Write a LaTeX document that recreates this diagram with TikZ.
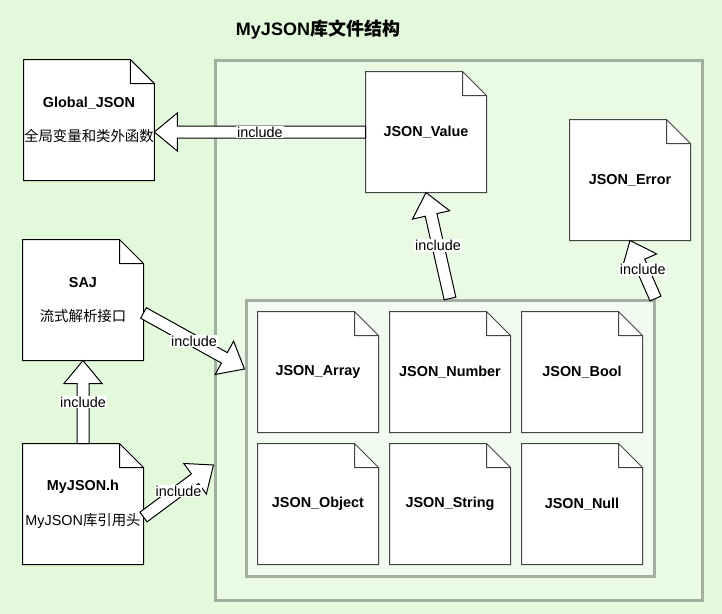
\documentclass[tikz,border=0pt]{standalone}
\usepackage{fontspec}
\setmainfont{Liberation Sans}
\newfontfamily\cjk{Noto Sans CJK SC}
\usetikzlibrary{calc}
\definecolor{pagebg}{HTML}{E2FADB}
\definecolor{outerfill}{HTML}{EAFBE5}
\definecolor{innerfill}{HTML}{F2FBF0}
\definecolor{boxline}{HTML}{A3AFA0}
\definecolor{docline}{HTML}{444444}

\newdimen\docXa \newdimen\docYa \newdimen\docXb \newdimen\docYb \newdimen\docXc \newdimen\docYc
\makeatletter
\pgfdeclareshape{notedoc}{
  \inheritsavedanchors[from=rectangle]
  \inheritanchorborder[from=rectangle]
  \inheritanchor[from=rectangle]{center}
  \inheritanchor[from=rectangle]{north}
  \inheritanchor[from=rectangle]{south}
  \inheritanchor[from=rectangle]{east}
  \inheritanchor[from=rectangle]{west}
  \inheritanchor[from=rectangle]{north east}
  \inheritanchor[from=rectangle]{north west}
  \inheritanchor[from=rectangle]{south east}
  \inheritanchor[from=rectangle]{south west}
  \backgroundpath{%
    \southwest \docXa=\pgf@x \docYa=\pgf@y
    \northeast \docXb=\pgf@x \docYb=\pgf@y
    \docXc=\docXb \advance\docXc by -18pt
    \docYc=\docYb \advance\docYc by -18pt
    \pgfpathmoveto{\pgfqpoint{\docXa}{\docYa}}%
    \pgfpathlineto{\pgfqpoint{\docXa}{\docYb}}%
    \pgfpathlineto{\pgfqpoint{\docXc}{\docYb}}%
    \pgfpathlineto{\pgfqpoint{\docXb}{\docYc}}%
    \pgfpathlineto{\pgfqpoint{\docXb}{\docYa}}%
    \pgfpathclose
    \pgfpathmoveto{\pgfqpoint{\docXb}{\docYc}}%
    \pgfpathlineto{\pgfqpoint{\docXc}{\docYc}}%
    \pgfpathlineto{\pgfqpoint{\docXc}{\docYb}}%
  }
}
\makeatother

\tikzset{
  doc/.style={shape=notedoc, draw=#1, fill=white, line width=0.75pt, inner sep=0pt,
    minimum width=90pt, minimum height=90pt, align=center,
    font=\fontsize{10.8}{12.96}\selectfont\bfseries},
  doc/.default=black,
  container/.style={draw=boxline, line width=2.25pt, fill=#1, inner sep=0pt},
  flexline/.style={draw=black, fill=white, line width=0.75pt, line join=miter},
  lbl/.style={fill=white, inner sep=0.8pt, font=\fontsize{10.8}{12.96}\selectfont},
}

\newcommand\flexarrow[3]{%
  \draw[flexline] let \p1=(#1), \p2=(#2) in
    ($(\p1)!4.5pt!90:(\p2)$)
    -- ($(\p2)!17.25pt!(\p1)!4.5pt!-90:(\p1)$)
    -- ($(\p2)!17.25pt!(\p1)!14.25pt!-90:(\p1)$)
    -- (\p2)
    -- ($(\p2)!17.25pt!(\p1)!14.25pt!90:(\p1)$)
    -- ($(\p2)!17.25pt!(\p1)!4.5pt!90:(\p1)$)
    -- ($(\p1)!4.5pt!-90:(\p2)$)
    -- cycle
    ($(\p1)!0.5!(\p2)$) node[lbl] (#3) {include};
}

\begin{document}
\begin{tikzpicture}[x=0.75pt, y=-0.75pt]
\useasboundingbox (0,0) rectangle (722,614);
\fill[pagebg] (0,0) rectangle (722,614);

% containers
\node[container=outerfill, minimum width=365.25pt, minimum height=405pt] (outer) at (458.5,330) {};
\node[container=innerfill, minimum width=306pt, minimum height=207pt] (inner) at (450,438) {};

% title
\node[font=\fontsize{13.5}{16.2}\selectfont\bfseries] (title) at (318,30) {MyJSON{\cjk 库文件结构}};

% outside documents
\node[doc] (glob) at (89,120) {Global\_JSON\\[12.96pt]{\mdseries\cjk 全局变量和类外函数}};
\node[doc] (saj) at (83,300) {SAJ\\[12.96pt]{\mdseries\cjk 流式解析接口}};
\node[doc] (myh) at (83,504) {MyJSON.h\\[12.96pt]{\mdseries MyJSON{\cjk 库引用头}}};

% documents in the outer container
\node[doc=docline] (val) at (426,132) {JSON\_Value};
\node[doc=docline] (err) at (630,180) {JSON\_Error};

% documents in the inner container
\node[doc=docline] (arr)  at (318,372) {JSON\_Array};
\node[doc=docline] (num)  at (450,372) {JSON\_Number};
\node[doc=docline] (bool) at (582,372) {JSON\_Bool};
\node[doc=docline] (obj)  at (318,504) {JSON\_Object};
\node[doc=docline] (str)  at (450,504) {JSON\_String};
\node[doc=docline] (null) at (582,504) {JSON\_Null};

% arrow end points
\coordinate (a4s) at ($(saj.east)+(0,13)$);
\coordinate (a4e) at ($(inner.west)+(0,-69)$);
\coordinate (a6s) at ($(myh.east)+(0,13)$);
\coordinate (a6e) at ($(outer.west)+(0,135)$);

% block arrows
\flexarrow{val.west}{val.west -| glob.east}{l1}
\flexarrow{inner.north}{val.south}{l2}
\flexarrow{inner.north east}{err.south}{l3}
\flexarrow{a4s}{a4e}{l4}
\flexarrow{myh.north}{saj.south}{l5}
\flexarrow{a6s}{a6e}{l6}
\end{tikzpicture}
\end{document}
